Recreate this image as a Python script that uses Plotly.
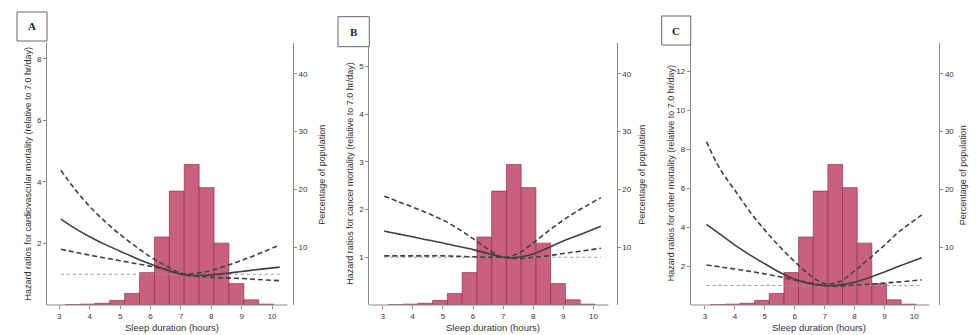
import plotly.graph_objects as go

# Sleep duration histogram (percentage of population), shared by all panels
bin_centers = [3.435, 3.925, 4.415, 4.905, 5.395, 5.885, 6.375, 6.865,
               7.355, 7.845, 8.335, 8.825, 9.315, 9.805]
bin_width = 0.49
pct_population = [0.05, 0.15, 0.3, 0.8, 2.0, 5.6, 11.75, 19.7,
                  24.3, 20.3, 10.7, 3.7, 0.9, 0.15]

# Grid of sleep durations at which the spline curves are evaluated
sleep_hours = [3.05, 3.5, 4, 4.5, 5, 5.5, 6, 6.5, 7, 7.5, 8, 8.5, 9, 9.5, 10.25]

# A: cardiovascular mortality
cvd_hr = [2.79, 2.5, 2.22, 1.97, 1.75, 1.53, 1.33, 1.15, 1.0, 0.96, 0.98, 1.03, 1.09, 1.15, 1.23]
cvd_upper = [4.38, 3.78, 3.2, 2.72, 2.29, 1.91, 1.56, 1.28, 1.03, 1.03, 1.12, 1.28, 1.45, 1.64, 1.95]
cvd_lower = [1.81, 1.72, 1.62, 1.53, 1.44, 1.35, 1.26, 1.15, 1.0, 0.94, 0.9, 0.88, 0.86, 0.83, 0.79]

# B: cancer mortality
cancer_hr = [1.55, 1.49, 1.43, 1.36, 1.3, 1.23, 1.16, 1.08, 1.0, 1.0, 1.07, 1.2, 1.34, 1.46, 1.65]
cancer_upper = [2.28, 2.17, 2.05, 1.92, 1.78, 1.6, 1.39, 1.17, 1.0, 1.08, 1.3, 1.55, 1.78, 1.98, 2.25]
cancer_lower = [1.03, 1.03, 1.03, 1.03, 1.03, 1.02, 1.01, 1.0, 1.0, 0.97, 1.0, 1.03, 1.08, 1.12, 1.19]

# C: other mortality
other_hr = [4.15, 3.64, 3.08, 2.58, 2.12, 1.68, 1.32, 1.1, 1.0, 1.02, 1.17, 1.42, 1.7, 2.0, 2.43]
other_upper = [8.4, 7.0, 5.9, 4.8, 3.85, 3.0, 2.23, 1.55, 1.1, 1.2, 1.75, 2.4, 3.07, 3.78, 4.63]
other_lower = [2.06, 1.96, 1.85, 1.73, 1.6, 1.45, 1.29, 1.14, 1.0, 0.98, 1.02, 1.07, 1.13, 1.19, 1.29]

# Reference line HR = 1
ref_x = [3.05, 10.25]
ref_y = [1, 1]

x_ticks = [3, 4, 5, 6, 7, 8, 9, 10]
pct_ticks = [10, 20, 30, 40]

panels = [
    dict(label="A", hr=cvd_hr, up=cvd_upper, lo=cvd_lower,
         title="Hazard ratios for cardiovascular mortality (relative to 7.0 hr/day)",
         hr_ticks=[2, 4, 6, 8], hr_max=8.53,
         px=(47, 293), xr=(2.595, 10.688), box=(17, 47, 12, 41),
         ytitle_x=27, rtitle_x=321.7, xtitle_x=171.7),
    dict(label="B", hr=cancer_hr, up=cancer_upper, lo=cancer_lower,
         title="Hazard ratios for cancer mortality (relative to 7.0 hr/day)",
         hr_ticks=[1, 2, 3, 4, 5], hr_max=5.5,
         px=(369.3, 616.7), xr=(2.555, 10.774), box=(338, 369.3, 16.7, 46.7),
         ytitle_x=349.3, rtitle_x=641.7, xtitle_x=493.3),
    dict(label="C", hr=other_hr, up=other_upper, lo=other_lower,
         title="Hazard ratios for other mortality (relative to 7.0 hr/day)",
         hr_ticks=[2, 4, 6, 8, 10, 12], hr_max=13.5,
         px=(690.7, 939.3), xr=(2.522, 10.836), box=(661.7, 690.7, 16, 45),
         ytitle_x=670.7, rtitle_x=963.3, xtitle_x=819),
]

W, H = 979, 335
y_dom = [30 / H, 292.5 / H]
x_line_end = 10.5  # bottom axis line stops short of the right axis
font_family = "Liberation Sans, Arial, sans-serif"
axis_col = "#8a8a8a"
text_col = "#333333"
bar_fill = "#C9607D"
bar_edge = "#8E3550"
line_col = "#404040"

fig = go.Figure()
layout = dict(
    width=W, height=H, margin=dict(l=0, r=0, t=0, b=0),
    paper_bgcolor="white", plot_bgcolor="white", showlegend=False,
    font=dict(family=font_family, color=text_col),
)
shapes, annotations = [], []

for i, p in enumerate(panels):
    xn = "x" if i == 0 else f"x{i + 1}"
    pct_n = 2 * i + 1
    hr_n = 2 * i + 2
    pct_ref = "y" if pct_n == 1 else f"y{pct_n}"
    hr_ref = f"y{hr_n}"

    fig.add_trace(go.Bar(
        x=bin_centers, y=pct_population, width=bin_width,
        marker=dict(color=bar_fill, line=dict(color=bar_edge, width=0.7)),
        xaxis=xn, yaxis=pct_ref, hoverinfo="skip"))
    fig.add_trace(go.Scatter(
        x=ref_x, y=ref_y, mode="lines",
        line=dict(color="#9a9a9a", width=1.1, dash="dot"),
        xaxis=xn, yaxis=hr_ref))
    for series, dash in ((p["up"], "5px,3px"), (p["lo"], "5px,3px"), (p["hr"], "solid")):
        fig.add_trace(go.Scatter(
            x=sleep_hours, y=series, mode="lines",
            line=dict(color=line_col, width=1.6, dash=dash, shape="spline", smoothing=1.0),
            xaxis=xn, yaxis=hr_ref))

    xdom = [p["px"][0] / W, p["px"][1] / W]
    common = dict(showgrid=False, zeroline=False, linecolor=axis_col,
                  linewidth=1, ticks="outside", ticklen=3, tickcolor=axis_col,
                  tickfont=dict(size=8, color=text_col, family=font_family))
    layout["xaxis" if i == 0 else f"xaxis{i + 1}"] = dict(
        domain=xdom, range=list(p["xr"]), anchor=pct_ref, showline=False,
        tickvals=x_ticks, **common)
    layout["yaxis" if pct_n == 1 else f"yaxis{pct_n}"] = dict(
        domain=y_dom, range=[0, 45.4], anchor=xn, side="right", showline=True,
        tickvals=pct_ticks, **common)
    layout[f"yaxis{hr_n}"] = dict(
        domain=y_dom, range=[0, p["hr_max"]], anchor=xn, side="left", showline=True,
        overlaying=pct_ref, tickvals=p["hr_ticks"], **common)

    # bottom axis line
    shapes.append(dict(type="line", xref=xn, yref="paper",
                       x0=p["xr"][0], x1=x_line_end, y0=y_dom[0], y1=y_dom[0],
                       line=dict(color=axis_col, width=1)))
    bx0, bx1, by0, by1 = p["box"]
    shapes.append(dict(type="rect", xref="paper", yref="paper",
                       x0=bx0 / W, x1=bx1 / W, y0=1 - by1 / H, y1=1 - by0 / H,
                       line=dict(color="#666666", width=1), fillcolor="white"))
    annotations.append(dict(
        text=f"<b>{p['label']}</b>", xref="paper", yref="paper",
        x=(bx0 + bx1) / 2 / W, y=1 - (by0 + by1) / 2 / H,
        showarrow=False, xanchor="center", yanchor="middle",
        font=dict(family="Liberation Serif, Times New Roman, serif", size=11, color="#222222")))
    annotations.append(dict(
        text=p["title"], xref="paper", yref="paper",
        x=p["ytitle_x"] / W, y=1 - 173.5 / H, textangle=-90,
        showarrow=False, xanchor="center", yanchor="middle",
        font=dict(size=9, color=text_col)))
    annotations.append(dict(
        text="Percentage of population", xref="paper", yref="paper",
        x=p["rtitle_x"] / W, y=1 - 175 / H, textangle=-90,
        showarrow=False, xanchor="center", yanchor="middle",
        font=dict(size=9, color=text_col)))
    annotations.append(dict(
        text="Sleep duration (hours)", xref="paper", yref="paper",
        x=p["xtitle_x"] / W, y=1 - 327.5 / H,
        showarrow=False, xanchor="center", yanchor="middle",
        font=dict(size=9.5, color=text_col)))

layout["shapes"] = shapes
layout["annotations"] = annotations
fig.update_layout(**layout)
fig.write_html("out.html")
